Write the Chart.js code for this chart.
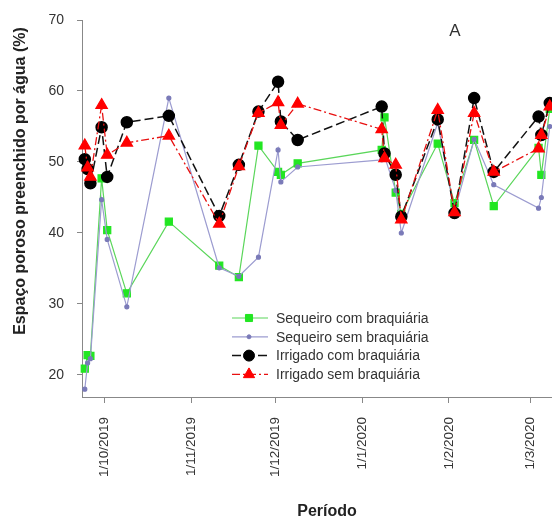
<!DOCTYPE html>
<html>
<head>
<meta charset="utf-8">
<script src="https://cdn.jsdelivr.net/npm/chart.js@4.4.1/dist/chart.umd.min.js"></script>
<style>
  html, body { margin: 0; padding: 0; background: #fff; }
  #wrap { width: 552px; height: 522px; }
</style>
</head>
<body>
<div id="wrap"><canvas id="chart" width="552" height="522"></canvas></div>
<script>
// days counted from 1/10/2019
const sampleDays = [-7, -6, -5, -1, 1, 8, 23, 41, 48, 55, 62, 63, 69, 99, 100, 104, 106, 119, 125, 132, 139, 155, 156, 159];

const seqComBraq = [20.9, 22.8, 22.7, 47.7, 40.4, 31.5, 41.6, 35.4, 33.8, 52.3, 48.6, 48.2, 49.8, 51.7, 56.3, 45.7, 42.7, 52.6, 44.2, 53.1, 43.8, 52.0, 48.2, 57.5];
const seqSemBraq = [18.0, 21.7, 22.3, 44.7, 39.1, 29.6, 59.0, 35.1, 33.9, 36.6, 51.7, 47.2, 49.3, 50.3, 50.8, 46.0, 40.0, 55.5, 43.0, 53.2, 46.8, 43.5, 45.0, 55.0];
const irrComBraq = [50.4, 49.0, 47.0, 54.9, 47.9, 55.6, 56.5, 42.4, 49.6, 57.1, 61.3, 55.7, 53.1, 57.8, 51.2, 48.2, 42.3, 56.0, 42.8, 59.0, 48.6, 56.4, 53.8, 58.3];
const irrSemBraq = [52.3, 49.2, 47.9, 58.0, 51.0, 52.7, 53.7, 41.3, 49.4, 56.9, 58.4, 55.2, 58.2, 54.6, 50.5, 49.6, 41.9, 57.3, 42.9, 56.9, 48.6, 51.9, 53.8, 57.8];

const seriesLabels = ['Sequeiro com braquiária', 'Sequeiro sem braquiária', 'Irrigado com braquiária', 'Irrigado sem braquiária'];

const xTickDays = [0, 31, 61, 92, 123, 152];
const xTickLabels = ['1/10/2019', '1/11/2019', '1/12/2019', '1/1/2020', '1/2/2020', '1/3/2020'];
const yTicks = [20, 30, 40, 50, 60, 70];

const FONT = '"Liberation Sans", Arial, sans-serif';

function toPoints(vals) {
    return vals.map((v, i) => ({x: sampleDays[i], y: v}));
}

function drawMarker(ctx, style, x, y, r, color) {
    ctx.fillStyle = color;
    ctx.strokeStyle = color;
    ctx.lineWidth = 1;
    ctx.beginPath();
    if (style === 'rect') {
        const s = Math.SQRT1_2 * r;
        ctx.rect(x - s, y - s, 2 * s, 2 * s);
    } else if (style === 'triangle') {
        ctx.moveTo(x, y - r);
        ctx.lineTo(x + Math.sin(Math.PI * 2 / 3) * r, y + r / 2);
        ctx.lineTo(x - Math.sin(Math.PI * 2 / 3) * r, y + r / 2);
        ctx.closePath();
    } else {
        ctx.arc(x, y, r, 0, Math.PI * 2);
    }
    ctx.fill();
    ctx.stroke();
}

// legend box inside the plot + axis titles + panel letter
const extras = {
    id: 'extras',
    afterDatasetsDraw(chart) {
        const ctx = chart.ctx;
        chart.data.datasets.forEach((ds, i) => {
            const y = 318 + i * 18.8;
            ctx.save();
            ctx.strokeStyle = ds.borderColor;
            ctx.lineWidth = ds.borderWidth;
            ctx.setLineDash(ds.borderDash || []);
            ctx.beginPath();
            ctx.moveTo(232, y);
            ctx.lineTo(268, y);
            ctx.stroke();
            ctx.setLineDash([]);
            drawMarker(ctx, ds.pointStyle, 249, y, ds.pointRadius, ds.pointBackgroundColor);
            ctx.fillStyle = '#333';
            ctx.font = '14px ' + FONT;
            ctx.textBaseline = 'middle';
            ctx.textAlign = 'left';
            ctx.fillText(ds.label, 276, y + 1);
            ctx.restore();
        });

        ctx.save();
        ctx.fillStyle = '#222';
        ctx.textAlign = 'center';
        ctx.textBaseline = 'middle';
        ctx.font = 'bold 16px ' + FONT;
        ctx.translate(21, 181);
        ctx.rotate(-Math.PI / 2);
        ctx.fillText('Espaço poroso preenchido por água (%)', 0, 0);
        ctx.restore();

        ctx.save();
        ctx.fillStyle = '#222';
        ctx.textAlign = 'center';
        ctx.textBaseline = 'middle';
        ctx.font = 'bold 16px ' + FONT;
        ctx.fillText('Período', 327, 512);
        ctx.font = '17px ' + FONT;
        ctx.fillStyle = '#333';
        ctx.fillText('A', 455, 31);
        ctx.restore();
    }
};

new Chart(document.getElementById('chart'), {
    type: 'line',
    data: {
        datasets: [{
            label: seriesLabels[0],
            data: toPoints(seqComBraq),
            borderColor: '#5ad65a',
            borderWidth: 1.2,
            pointStyle: 'rect',
            pointRadius: 5,
            pointBackgroundColor: '#22e622',
            pointBorderColor: '#22e622',
            order: 4
        }, {
            label: seriesLabels[1],
            data: toPoints(seqSemBraq),
            borderColor: '#9c9cd0',
            borderWidth: 1.2,
            pointStyle: 'circle',
            pointRadius: 2,
            pointBackgroundColor: '#7a7ab8',
            pointBorderColor: '#7a7ab8',
            order: 3
        }, {
            label: seriesLabels[2],
            data: toPoints(irrComBraq),
            borderColor: '#111',
            borderWidth: 1.5,
            borderDash: [9, 4],
            pointStyle: 'circle',
            pointRadius: 5.5,
            pointBackgroundColor: '#000',
            pointBorderColor: '#000',
            order: 2
        }, {
            label: seriesLabels[3],
            data: toPoints(irrSemBraq),
            borderColor: '#e81010',
            borderWidth: 1.3,
            borderDash: [8, 3, 2, 3],
            pointStyle: 'triangle',
            pointRadius: 6.5,
            pointBackgroundColor: '#f00',
            pointBorderColor: '#f00',
            order: 1
        }]
    },
    options: {
        responsive: false,
        animation: false,
        clip: false,
        elements: { line: { tension: 0 } },
        layout: { autoPadding: false, padding: { top: 20, right: 0, bottom: 0, left: 0 } },
        plugins: { legend: { display: false }, tooltip: { enabled: false } },
        scales: {
            x: {
                type: 'linear',
                min: -8,
                max: 159.8,
                afterBuildTicks: s => { s.ticks = xTickDays.map(v => ({value: v})); },
                afterFit: s => { s.height = 125; s.paddingLeft = 0; s.paddingRight = 0; },
                ticks: {
                    autoSkip: false,
                    minRotation: 90,
                    maxRotation: 90,
                    padding: 14,
                    color: '#333',
                    font: { size: 13.5, family: FONT },
                    callback: (v, i) => xTickLabels[i]
                },
                grid: { drawOnChartArea: false, drawTicks: true, tickLength: 6, color: '#888' },
                border: { color: '#888', width: 1 }
            },
            y: {
                min: 16.9,
                max: 70,
                afterBuildTicks: s => { s.ticks = yTicks.map(v => ({value: v})); },
                afterFit: s => { s.width = 82; s.paddingTop = 0; s.paddingBottom = 0; },
                ticks: {
                    padding: 13,
                    color: '#333',
                    font: { size: 14, family: FONT }
                },
                grid: { drawOnChartArea: false, drawTicks: true, tickLength: 5, color: '#888' },
                border: { color: '#888', width: 1 }
            }
        }
    },
    plugins: [extras]
});
</script>
</body>
</html>
